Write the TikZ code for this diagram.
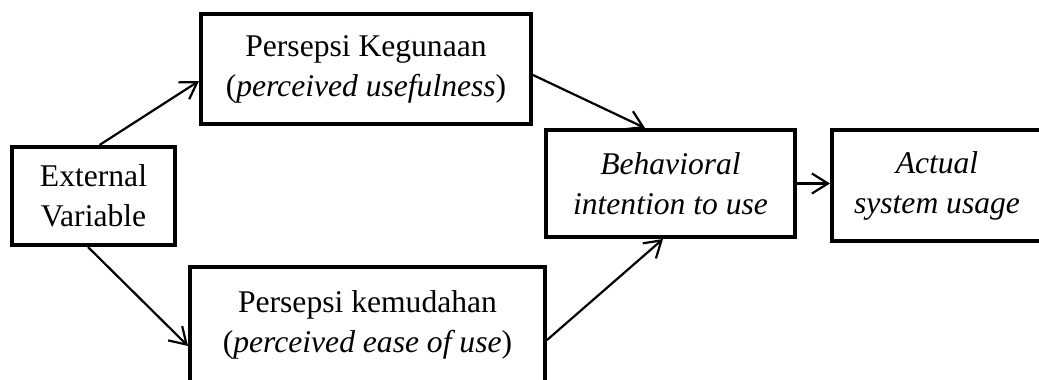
\documentclass[tikz,border=0pt]{standalone}
\usepackage{fontspec}
\setmainfont{Liberation Serif}[ItalicFont={Liberation Serif Italic}]
\usetikzlibrary{arrows.meta}

\begin{document}
\begin{tikzpicture}[x=0.5pt,y=0.5pt,yscale=-1,xscale=1,
  box/.style={draw,line width=2.2pt,inner sep=0pt,align=center,
    font=\fontsize{15.8}{20}\selectfont},
  link/.style={line width=1.1pt,-{Straight Barb[length=8pt,width=10pt,line width=1.1pt]}}]
\useasboundingbox (0,0) rectangle (1039,380);
\clip (0,0) rectangle (1039,380);

%Shape: Rectangle [External Variable]
\node [box,minimum width=81.3pt,minimum height=48.8pt] (ext) at (93.5,196) {External\\Variable};
%Shape: Rectangle [Persepsi Kegunaan]
\node [box,minimum width=164.8pt,minimum height=54.8pt] (keg) at (366,69) {Persepsi Kegunaan\\(\textit{perceived usefulness})};
%Shape: Rectangle [Persepsi kemudahan]
\node [box,minimum width=177.3pt,minimum height=57.8pt] (kem) at (367.5,325) {Persepsi kemudahan\\(\textit{perceived ease of use})};
%Shape: Rectangle [Behavioral intention]
\node [box,minimum width=124.3pt,minimum height=53.3pt] (beh) at (670.5,183.5) {\textit{Behavioral}\\\textit{intention to use}};
%Shape: Rectangle [Actual usage]
\node [box,minimum width=104.8pt,minimum height=55.3pt] (act) at (937,185.5) {\textit{Actual}\\\textit{system usage}};

%Straight Lines
\draw [link] ([xshift=3pt]ext.north) -- ([yshift=6pt]keg.west);
%Straight Lines
\draw [link] ([xshift=-2.75pt]ext.south) -- ([yshift=10.5pt]kem.west);
%Straight Lines
\draw [link] ([yshift=3pt]keg.east) -- ([xshift=-12.75pt]beh.north);
%Straight Lines
\draw [link] ([yshift=7.5pt]kem.east) -- ([xshift=-3.75pt]beh.south);
%Straight Lines
\draw [link] (beh.east) -- (beh.east -| act.west);

\end{tikzpicture}
\end{document}
